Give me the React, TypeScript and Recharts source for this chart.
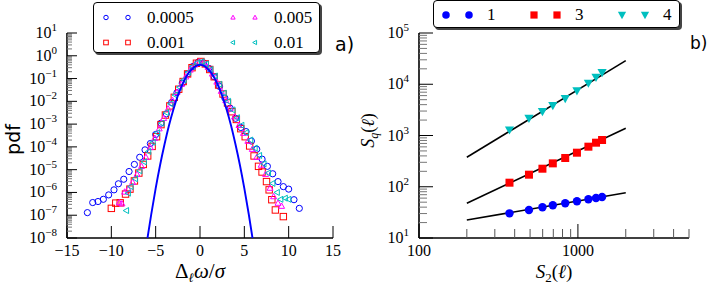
import React from "react";
import { ComposedChart, Scatter, XAxis, YAxis, Legend } from "recharts";

// ---- panel a): pdf of the increments, one series per separation
const xA = [-12.7, -12.1, -11.5, -10.9, -10.3, -9.7, -9.2, -8.6, -8.0, -7.4, -6.8, -6.2, -5.6, -5.0, -4.4, -3.8, -3.2, -2.6, -2.0, -1.4, -0.8, -0.2, 0.4, 1.0, 1.6, 2.2, 2.8, 3.4, 4.0, 4.6, 5.2, 5.8, 6.4, 7.0, 7.6, 8.2, 8.8, 9.4, 10.0, 10.6, 11.2];
const pdfA = [1.3e-7, 3.6e-7, 4.0e-7, 5.0e-7, 7.8e-7, 1.3e-6, 2.4e-6, 3.8e-6, 8.3e-6, 1.7e-5, 3.5e-5, 7.4e-5, 1.4e-4, 3.5e-4, 1.1e-3, 2.8e-3, 8.9e-3, 2.4e-2, 6.3e-2, 0.16, 0.34, 0.52, 0.49, 0.28, 0.12, 4.5e-2, 1.4e-2, 5.0e-3, 1.8e-3, 7.1e-4, 4.7e-4, 1.8e-4, 7.9e-5, 2.9e-5, 1.4e-5, 6.6e-6, 3.0e-6, 1.8e-6, 1.4e-6, 4.8e-7, 2.0e-7];

const xB = [-10.0, -9.5, -9.0, -8.4, -7.9, -7.4, -6.9, -6.4, -5.9, -5.4, -4.9, -4.4, -3.9, -3.4, -2.9, -2.4, -1.9, -1.4, -0.9, -0.4, 0.1, 0.6, 1.1, 1.6, 2.1, 2.6, 3.1, 3.6, 4.1, 4.6, 5.1, 5.6, 6.1, 6.6, 7.0, 7.5, 7.8, 8.1, 8.5, 9.4];
const pdfB = [2.0e-7, 3.4e-7, 3.5e-7, 8.5e-7, 1.4e-6, 3.2e-6, 7.1e-6, 1.7e-5, 4.0e-5, 1.05e-4, 2.8e-4, 9.5e-4, 2.5e-3, 6.3e-3, 1.5e-2, 3.4e-2, 7.4e-2, 0.16, 0.30, 0.47, 0.56, 0.44, 0.25, 0.12, 5.2e-2, 2.1e-2, 8.5e-3, 3.5e-3, 1.6e-3, 6.3e-4, 2.8e-4, 1.1e-4, 4.0e-5, 1.4e-5, 7.9e-6, 3.0e-6, 1.3e-6, 4.8e-7, 1.7e-7, 8.7e-8];

const xC = [-9.1, -8.8, -8.5, -8.1, -7.6, -7.1, -6.6, -6.1, -5.6, -5.1, -4.6, -4.1, -3.6, -3.1, -2.6, -2.1, -1.6, -1.1, -0.6, -0.1, 0.4, 0.9, 1.4, 1.9, 2.4, 2.9, 3.4, 3.9, 4.4, 4.9, 5.4, 5.9, 6.4, 6.9, 7.4, 7.9, 8.3, 8.8, 9.2];
const pdfC = [3.6e-7, 3.2e-7, 1.05e-6, 1.4e-6, 2.8e-6, 6.3e-6, 1.4e-5, 3.5e-5, 9.5e-5, 2.4e-4, 6.3e-4, 1.8e-3, 4.7e-3, 1.1e-2, 2.5e-2, 5.6e-2, 0.12, 0.24, 0.40, 0.54, 0.50, 0.32, 0.16, 7.1e-2, 2.8e-2, 1.1e-2, 4.7e-3, 2.1e-3, 8.9e-4, 4.0e-4, 1.8e-4, 7.9e-5, 3.5e-5, 1.6e-5, 6.3e-6, 1.55e-6, 6.6e-7, 3.4e-7, 2.5e-7];

const xD = [-8.3, -8.1, -7.8, -7.3, -6.8, -6.3, -5.8, -5.3, -4.8, -4.3, -3.8, -3.3, -2.8, -2.3, -1.8, -1.3, -0.8, -0.3, 0.2, 0.7, 1.2, 1.7, 2.2, 2.7, 3.2, 3.7, 4.2, 4.7, 5.2, 5.7, 6.2, 6.7, 7.2, 7.7, 8.2, 8.7, 9.1, 9.6, 10.0];
const pdfD = [1.6e-7, 9.3e-7, 1.8e-6, 4.0e-6, 8.9e-6, 2.2e-5, 6.3e-5, 1.6e-4, 4.2e-4, 1.1e-3, 3.2e-3, 7.9e-3, 1.9e-2, 4.2e-2, 8.9e-2, 0.19, 0.34, 0.50, 0.55, 0.43, 0.25, 0.13, 5.6e-2, 2.3e-2, 1.0e-2, 4.2e-3, 1.9e-3, 8.9e-4, 4.2e-4, 2.0e-4, 8.9e-5, 4.2e-5, 1.8e-5, 7.1e-6, 2.5e-6, 1.0e-6, 5.0e-7, 5.6e-7, 5.0e-7];

// gaussian reference curve
const gaussX = [-5.92, -5.5, -5.0, -4.5, -4.0, -3.5, -3.0, -2.5, -2.0, -1.5, -1.0, -0.5, 0, 0.5, 1.0, 1.5, 2.0, 2.5, 3.0, 3.5, 4.0, 4.5, 5.0, 5.5, 5.92];
const gaussY = [1.0e-8, 1.1e-7, 1.5e-6, 1.6e-5, 1.3e-4, 8.7e-4, 4.4e-3, 1.75e-2, 5.4e-2, 0.13, 0.24, 0.35, 0.40, 0.35, 0.24, 0.13, 5.4e-2, 1.75e-2, 4.4e-3, 8.7e-4, 1.3e-4, 1.6e-5, 1.5e-6, 1.1e-7, 1.0e-8];

// ---- panel b): S_q against S_2
const s2 = [371, 492, 598, 695, 832, 986, 1164, 1300, 1419];
const sq1 = [30.3, 35.2, 39.7, 43.5, 47.5, 52, 56.9, 60.3, 63];
const sq3 = [120, 172, 225, 286, 364, 462, 605, 724, 817];
const sq4 = [1279, 2168, 2917, 3820, 5240, 7400, 10450, 13680, 16830];
const fitS2 = [200, 2000];
const fit1 = [22.4, 76.6];
const fit3 = [47.6, 1380];
const fit4 = [376, 28840];

const pdfTicksX = [-15, -10, -5, 0, 5, 10, 15];
const pdfDecades = [-8, -7, -6, -5, -4, -3, -2, -1, 0, 1];
const s2Decades = [2, 3];
const sqDecades = [1, 2, 3, 4, 5];

const BLUE = "#0000ff";
const RED = "#ff0000";
const MAGENTA = "#ff00ff";
const CYAN = "#00bfbf";
const SERIF = '"Liberation Serif", "DejaVu Serif", serif';
const SANS = '"DejaVu Sans", sans-serif';

const pts = (xs: number[], ys: number[]) => xs.map((x, i) => ({ x, y: ys[i] }));

// decade ticks plus 2..9 minor ticks, kept inside [lo, hi]
const logTicks = (decades: number[], lo: number, hi: number) =>
  decades
    .flatMap((d) => [1, 2, 3, 4, 5, 6, 7, 8, 9].map((k) => k * Math.pow(10, d)))
    .filter((v) => v >= lo * 0.999 && v <= hi * 1.001);

const isDecade = (v: number) => {
  const l = Math.log10(v);
  return Math.abs(l - Math.round(l)) < 1e-6;
};

const pow10Label = (v: number) => {
  const e = Math.round(Math.log10(v));
  return e < 0 ? "\u2212" + -e : String(e);
};

// ---- markers
const OpenCircle = ({ cx, cy, s = 1 }: any) => (
  <circle cx={cx} cy={cy} r={3.1 * s} fill="none" stroke={BLUE} strokeWidth={1} />
);
const OpenSquare = ({ cx, cy, s = 1 }: any) => (
  <rect x={cx - 3.2 * s} y={cy - 3.2 * s} width={6.4 * s} height={6.4 * s} fill="none" stroke={RED} strokeWidth={1} />
);
const OpenTriUp = ({ cx, cy, s = 1 }: any) => (
  <polygon
    points={`${cx},${cy - 3.2 * s} ${cx + 3 * s},${cy + 2.2 * s} ${cx - 3 * s},${cy + 2.2 * s}`}
    fill="none"
    stroke={MAGENTA}
    strokeWidth={1}
  />
);
const OpenTriLeft = ({ cx, cy, s = 1 }: any) => (
  <polygon
    points={`${cx - 3.2 * s},${cy} ${cx + 2.2 * s},${cy - 3 * s} ${cx + 2.2 * s},${cy + 3 * s}`}
    fill="none"
    stroke={CYAN}
    strokeWidth={1}
  />
);
const FullCircle = ({ cx, cy, s = 1 }: any) => <circle cx={cx} cy={cy} r={4.2 * s} fill={BLUE} />;
const FullSquare = ({ cx, cy, s = 1 }: any) => (
  <rect x={cx - 4 * s} y={cy - 4 * s} width={8 * s} height={8 * s} fill={RED} />
);
const FullTriDown = ({ cx, cy, s = 1 }: any) => (
  <polygon points={`${cx - 4.6 * s},${cy - 3.6 * s} ${cx + 4.6 * s},${cy - 3.6 * s} ${cx},${cy + 4.6 * s}`} fill={CYAN} />
);
const NoMark = () => <g />;

const markerByName: Record<string, any> = {
  "0.0005": OpenCircle,
  "0.001": OpenSquare,
  "0.005": OpenTriUp,
  "0.01": OpenTriLeft,
  "1": FullCircle,
  "3": FullSquare,
  "4": FullTriDown,
};

// ---- ticks (drawn inward, with labels only on the main side)
const TickLeft = ({ x, y, payload, label, major = 10, minor = 5 }: any) => {
  const big = isDecade(payload.value);
  return (
    <g>
      <line x1={x} x2={x + (big ? major : minor)} y1={y} y2={y} stroke={big ? "#000" : "#777"} strokeWidth={1} />
      {label && big && (
        <text x={x - 10} y={y + 5} textAnchor="end" fontFamily={SERIF} fontSize={16} fill="#000">
          10
          <tspan dy={-7} fontSize={11}>
            {pow10Label(payload.value)}
          </tspan>
        </text>
      )}
    </g>
  );
};
const TickRight = ({ x, y, payload, major = 10, minor = 5 }: any) => {
  const big = isDecade(payload.value);
  return <line x1={x} x2={x - (big ? major : minor)} y1={y} y2={y} stroke={big ? "#000" : "#777"} strokeWidth={1} />;
};
const TickBottom = ({ x, y, payload, label, log, major = 12, minor = 8 }: any) => {
  const big = !log || isDecade(payload.value);
  const v = payload.value;
  const txt = log ? String(v) : v < 0 ? "\u2212" + -v : String(v);
  return (
    <g>
      <line x1={x} x2={x} y1={y} y2={y - (big ? major : minor)} stroke={big ? "#000" : "#555"} strokeWidth={1} />
      {label && big && (
        <text x={x} y={y + 18} textAnchor="middle" fontFamily={SERIF} fontSize={16} fill="#000">
          {txt}
        </text>
      )}
    </g>
  );
};
const TickTop = ({ x, y, payload, log, major = 12, minor = 8 }: any) => {
  const big = !log || isDecade(payload.value);
  return <line x1={x} x2={x} y1={y} y2={y + (big ? major : minor)} stroke={big ? "#000" : "#555"} strokeWidth={1} />;
};

const legendBox = (w: number, h: number): React.CSSProperties => ({
  position: "relative",
  width: w,
  height: h,
  boxSizing: "border-box",
  border: "1px solid #000",
  borderRadius: 4,
  background: "#fff",
  boxShadow: "2px 2px 0 #444",
});

const known = (payload: any) => (payload ?? []).filter((e: any) => markerByName[String(e.value)]);

function PdfLegend({ payload }: any) {
  return (
    <div style={legendBox(227, 51)}>
      {known(payload).map((e: any, i: number) => {
        const M = markerByName[String(e.value)];
        return (
          <div
            key={String(e.value)}
            style={{ position: "absolute", left: Math.floor(i / 2) * 127, top: 2 + (i % 2) * 25, height: 25, display: "flex", alignItems: "center" }}
          >
            <svg width={53} height={25}>
              <M cx={12} cy={12.5} s={0.72} />
              <M cx={34} cy={12.5} s={0.72} />
            </svg>
            <span style={{ fontFamily: SERIF, fontSize: 17, lineHeight: "25px" }}>{e.value}</span>
          </div>
        );
      })}
    </div>
  );
}

function SqLegend({ payload }: any) {
  return (
    <div style={legendBox(247, 28)}>
      {known(payload).map((e: any, i: number) => {
        const M = markerByName[String(e.value)];
        return (
          <div key={String(e.value)} style={{ position: "absolute", left: i * 88, top: 0, height: 27, display: "flex", alignItems: "center" }}>
            <svg width={53} height={27}>
              <M cx={12} cy={14} s={0.9} />
              <M cx={35} cy={14} s={0.9} />
            </svg>
            <span style={{ fontFamily: SERIF, fontSize: 17, lineHeight: "27px" }}>{e.value}</span>
          </div>
        );
      })}
    </div>
  );
}

function PdfPanel() {
  const yTicks = logTicks(pdfDecades, 1e-8, 10);
  return (
    <ComposedChart width={360} height={284} margin={{ top: 33, right: 27, bottom: 0, left: 17 }}>
      <XAxis
        xAxisId={0}
        type="number"
        dataKey="x"
        domain={[-15, 15]}
        allowDataOverflow
        ticks={pdfTicksX}
        interval={0}
        height={46}
        tickSize={0}
        tickMargin={0}
        axisLine={{ stroke: "#000", strokeWidth: 1.6 }}
        tick={(p: any) => <TickBottom {...p} label />}
        label={{
          content: ({ viewBox }: any) => (
            <text x={viewBox.x + viewBox.width / 2} y={viewBox.y + 40} textAnchor="middle" fontFamily={SERIF} fontSize={21}>
              Δ<tspan dy={4} fontSize={13} fontStyle="italic">ℓ</tspan>
              <tspan dy={-4} fontStyle="italic">ω</tspan>/<tspan fontStyle="italic">σ</tspan>
            </text>
          ),
        }}
      />
      <XAxis
        xAxisId="t"
        orientation="top"
        type="number"
        domain={[-15, 15]}
        allowDataOverflow
        ticks={pdfTicksX}
        interval={0}
        height={0}
        tickSize={0}
        tickMargin={0}
        axisLine={{ stroke: "#000", strokeWidth: 1.6 }}
        tick={(p: any) => <TickTop {...p} />}
      />
      <YAxis
        yAxisId={0}
        type="number"
        dataKey="y"
        scale="log"
        domain={[1e-8, 10]}
        allowDataOverflow
        ticks={yTicks}
        interval={0}
        width={50}
        tickSize={0}
        tickMargin={0}
        axisLine={{ stroke: "#000", strokeWidth: 1.6 }}
        tick={(p: any) => <TickLeft {...p} label />}
        label={{
          content: ({ viewBox }: any) => (
            <text
              transform={`translate(${viewBox.x + 3}, ${viewBox.y + viewBox.height / 2 + 4}) rotate(-90)`}
              textAnchor="middle"
              fontFamily={SANS}
              fontSize={19}
            >
              pdf
            </text>
          ),
        }}
      />
      <YAxis
        yAxisId="r"
        orientation="right"
        type="number"
        scale="log"
        domain={[1e-8, 10]}
        allowDataOverflow
        ticks={yTicks}
        interval={0}
        width={0}
        tickSize={0}
        tickMargin={0}
        axisLine={{ stroke: "#000", strokeWidth: 1.6 }}
        tick={(p: any) => <TickRight {...p} />}
      />
      <Scatter name="0.0005" data={pts(xA, pdfA)} fill={BLUE} shape={(p: any) => <OpenCircle {...p} />} isAnimationActive={false} />
      <Scatter name="0.001" data={pts(xB, pdfB)} fill={RED} shape={(p: any) => <OpenSquare {...p} />} isAnimationActive={false} />
      <Scatter name="0.005" data={pts(xC, pdfC)} fill={MAGENTA} shape={(p: any) => <OpenTriUp {...p} />} isAnimationActive={false} />
      <Scatter name="0.01" data={pts(xD, pdfD)} fill={CYAN} shape={(p: any) => <OpenTriLeft {...p} />} isAnimationActive={false} />
      <Scatter
        name="gauss"
        data={pts(gaussX, gaussY)}
        fill="none"
        legendType="none"
        line={{ stroke: BLUE, strokeWidth: 1.9, fill: "none" }}
        lineJointType="monotoneX"
        shape={(p: any) => <NoMark />}
        isAnimationActive={false}
      />
      <Legend
        layout="horizontal"
        align="center"
        verticalAlign="middle"
        content={(p: any) => <PdfLegend {...p} />}
        wrapperStyle={{ left: 93, top: 2, width: 227, height: 51 }}
      />
      <text x={335} y={51} fontFamily={SANS} fontSize={19} fill="#000">
        a)
      </text>
    </ComposedChart>
  );
}

function SqPanel() {
  const xTicks = logTicks(s2Decades, 100, 5000);
  const yTicks = logTicks(sqDecades, 10, 1e5);
  const fitLine = { stroke: "#000", strokeWidth: 1.6, fill: "none" };
  return (
    <ComposedChart width={357} height={284} margin={{ top: 33, right: 18, bottom: 0, left: 19 }}>
      <XAxis
        xAxisId={0}
        type="number"
        dataKey="x"
        scale="log"
        domain={[100, 5000]}
        allowDataOverflow
        ticks={xTicks}
        interval={0}
        height={46}
        tickSize={0}
        tickMargin={0}
        axisLine={{ stroke: "#000", strokeWidth: 1.6 }}
        tick={(p: any) => <TickBottom {...p} label log minor={9} major={14} />}
        label={{
          content: ({ viewBox }: any) => (
            <text x={viewBox.x + viewBox.width / 2} y={viewBox.y + 40} textAnchor="middle" fontFamily={SERIF} fontSize={19}>
              <tspan fontStyle="italic">S</tspan>
              <tspan dy={4} fontSize={13}>2</tspan>
              <tspan dy={-4}>(</tspan>
              <tspan fontStyle="italic">ℓ</tspan>)
            </text>
          ),
        }}
      />
      <XAxis
        xAxisId="t"
        orientation="top"
        type="number"
        scale="log"
        domain={[100, 5000]}
        allowDataOverflow
        ticks={xTicks}
        interval={0}
        height={0}
        tickSize={0}
        tickMargin={0}
        axisLine={{ stroke: "#000", strokeWidth: 1.6 }}
        tick={(p: any) => <TickTop {...p} log minor={9} major={14} />}
      />
      <YAxis
        yAxisId={0}
        type="number"
        dataKey="y"
        scale="log"
        domain={[10, 1e5]}
        allowDataOverflow
        ticks={yTicks}
        interval={0}
        width={50}
        tickSize={0}
        tickMargin={0}
        axisLine={{ stroke: "#000", strokeWidth: 1.6 }}
        tick={(p: any) => <TickLeft {...p} label major={14} minor={8} />}
        label={{
          content: ({ viewBox }: any) => (
            <text
              transform={`translate(${viewBox.x + 5}, ${viewBox.y + viewBox.height / 2 - 5}) rotate(-90)`}
              textAnchor="middle"
              fontFamily={SERIF}
              fontSize={18}
            >
              <tspan fontStyle="italic">S</tspan>
              <tspan dy={4} fontSize={12} fontStyle="italic">q</tspan>
              <tspan dy={-4}>(</tspan>
              <tspan fontStyle="italic">ℓ</tspan>)
            </text>
          ),
        }}
      />
      <YAxis
        yAxisId="r"
        orientation="right"
        type="number"
        scale="log"
        domain={[10, 1e5]}
        allowDataOverflow
        ticks={yTicks}
        interval={0}
        width={0}
        tickSize={0}
        tickMargin={0}
        axisLine={{ stroke: "#000", strokeWidth: 1.6 }}
        tick={(p: any) => <TickRight {...p} major={14} minor={8} />}
      />
      <Scatter name="fit1" data={pts(fitS2, fit1)} fill="none" legendType="none" line={fitLine} shape={(p: any) => <NoMark />} isAnimationActive={false} />
      <Scatter name="fit3" data={pts(fitS2, fit3)} fill="none" legendType="none" line={fitLine} shape={(p: any) => <NoMark />} isAnimationActive={false} />
      <Scatter name="fit4" data={pts(fitS2, fit4)} fill="none" legendType="none" line={fitLine} shape={(p: any) => <NoMark />} isAnimationActive={false} />
      <Scatter name="1" data={pts(s2, sq1)} fill={BLUE} shape={(p: any) => <FullCircle {...p} />} isAnimationActive={false} />
      <Scatter name="3" data={pts(s2, sq3)} fill={RED} shape={(p: any) => <FullSquare {...p} />} isAnimationActive={false} />
      <Scatter name="4" data={pts(s2, sq4)} fill={CYAN} shape={(p: any) => <FullTriDown {...p} />} isAnimationActive={false} />
      <Legend
        layout="horizontal"
        align="center"
        verticalAlign="middle"
        content={(p: any) => <SqLegend {...p} />}
        wrapperStyle={{ left: 83, top: 0, width: 247, height: 28 }}
      />
      <text x={340} y={49} fontFamily={SANS} fontSize={17} fill="#000">
        b)
      </text>
    </ComposedChart>
  );
}

export default function App() {
  return (
    <div style={{ position: "absolute", left: 0, top: 0, width: 707, height: 284, background: "#fff", overflow: "hidden" }}>
      <div style={{ position: "absolute", left: 0, top: 0 }}>
        <PdfPanel />
      </div>
      <div style={{ position: "absolute", left: 350, top: 0 }}>
        <SqPanel />
      </div>
    </div>
  );
}
